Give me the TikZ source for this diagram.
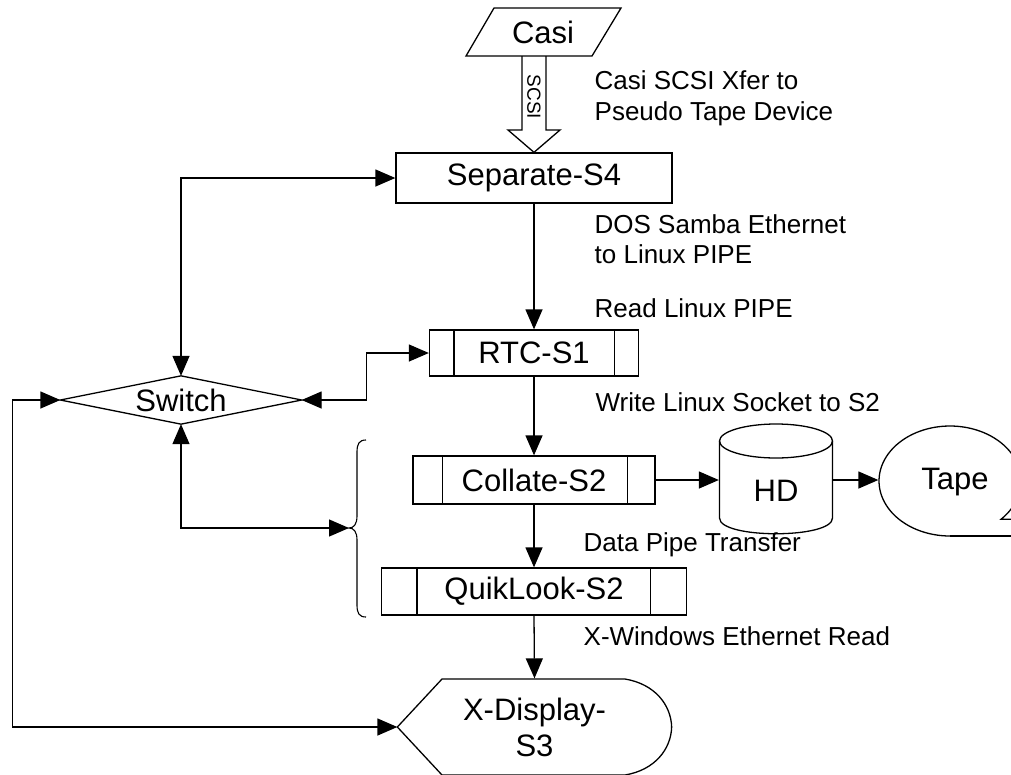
\documentclass[tikz,border=0pt]{standalone}
\usepackage{fontspec}
\setmainfont{Liberation Sans}
\usetikzlibrary{arrows.meta}
\newcommand\ndfont{\fontsize{31}{36}\selectfont}
\newcommand\lbfont{\fontsize{26}{30}\selectfont}
\begin{document}
\begin{tikzpicture}[x=1pt,y=-1pt,line width=1.3pt,
  >={Triangle[length=20pt,width=17pt]},
  box/.style={draw, rectangle, inner sep=0pt, font=\ndfont},
  ghost/.style={rectangle, inner sep=0pt, font=\ndfont},
  lbl/.style={anchor=base west, inner sep=0pt, font=\lbfont},
  conn/.style={->},
  biconn/.style={<->}]
\useasboundingbox (0,0) rectangle (1011,774);
\begin{scope}
\clip (0,0) rectangle (1011,774);

% Casi (input parallelogram)
\node[ghost, minimum width=128pt, minimum height=48pt] (casi) at (543,32) {Casi};
\draw (466,56) -- (592,56) -- (621,8) -- (494,8) -- cycle;

% Separate-S4
\node[box, minimum width=276pt, minimum height=50pt] (sep) at (534,178) {Separate-S4};

% hollow SCSI arrow
\draw (522,56) -- (522,130) -- (508,130) -- (sep.north) -- (560,130) -- (546,130) -- (546,56);
\node[rotate=-90, inner sep=0pt, font=\fontsize{19}{19}\selectfont] (scsi) at (534,97) {SCSI};

% RTC-S1
\node[box, minimum width=209pt, minimum height=46pt] (rtc) at (534,353) {RTC-S1};
\draw ([xshift=25pt]rtc.north west) -- ([xshift=25pt]rtc.south west);
\draw ([xshift=-25pt]rtc.north east) -- ([xshift=-25pt]rtc.south east);

% Collate-S2
\node[box, minimum width=242pt, minimum height=48pt] (col) at (534,480) {Collate-S2};
\draw ([xshift=30pt]col.north west) -- ([xshift=30pt]col.south west);
\draw ([xshift=-28pt]col.north east) -- ([xshift=-28pt]col.south east);

% QuikLook-S2
\node[box, minimum width=305pt, minimum height=47pt] (ql) at (534,591.5) {QuikLook-S2};
\draw ([xshift=36pt]ql.north west) -- ([xshift=36pt]ql.south west);
\draw ([xshift=-37pt]ql.north east) -- ([xshift=-37pt]ql.south east);

% Switch (diamond)
\node[ghost, minimum width=240pt, minimum height=47pt] (sw) at (181,400) {Switch};
\draw (sw.west) -- (sw.north) -- (sw.east) -- (sw.south) -- cycle;

% HD (cylinder)
\node[ghost, minimum width=113pt, minimum height=60pt] (hd) at (776,491) {HD};
\draw (719.5,441) -- (719.5,518) .. controls (719.5,539) and (832.5,539) .. (832.5,518) -- (832.5,441);
\draw (776,441) ellipse [x radius=56.5pt, y radius=17pt];

% Tape
\node[ghost, minimum width=142pt, minimum height=110pt] (tape) at (950,481) {};
\node[ghost] (tapetxt) at (955,482) {Tape};
\draw plot[domain=90:404, samples=90] ({950+71*cos(\x)},{481+55*sin(\x)}) -- (1020,519.2);
\draw (950,536) -- (1020,536);

% X-Display-S3
\node[ghost, minimum width=273pt, minimum height=96pt, align=center] (xd) at (534.5,727) {X-Display-\\S3};
\draw (xd.west) -- (442,679) -- (625,679) .. controls (655,684) and (671,705) .. (xd.east)
  .. controls (671,749) and (655,770) .. (625,775) -- (442,775) -- cycle;
\end{scope}

% brace
\coordinate (bt) at (349,528);
\draw[line width=1.1pt] (366,440) .. controls (359,440) and (357,444) .. (357,452) -- (357,516)
  .. controls (357,524) and (354,528) .. (bt) .. controls (354,528) and (357,532) .. (357,540)
  -- (357,605) .. controls (357,613) and (359,617) .. (366,617);

% main flow
\draw[conn] (sep.south) -- (rtc.north);
\draw[conn] (rtc.south) -- (col.north);
\draw[conn] (col.south) -- (ql.north);
\draw[conn] (ql.south) -- (xd.north);
\draw[conn] (col.east) -- (col.east -| hd.west);
\draw[conn] (col.east -| hd.east) -- (col.east -| tape.west);

% switch connections
\draw[biconn] (sw.north) |- (sep.west);
\draw[biconn] (sw.east) -- ++(65,0) |- (rtc.west);
\draw[biconn] (sw.south) |- (bt);
\draw[biconn] (sw.west) -- ++(-48,0) |- (xd.west);

% labels
\node[lbl] (l1) at (594,89) {Casi SCSI Xfer to};
\node[lbl] (l2) at (594,120) {Pseudo Tape Device};
\node[lbl] (l3) at (594,233) {DOS Samba Ethernet};
\node[lbl] (l4) at (594,263) {to Linux PIPE};
\node[lbl] (l5) at (594,317) {Read Linux PIPE};
\node[lbl] (l6) at (595,411) {Write Linux Socket to S2};
\node[lbl] (l7) at (583,551) {Data Pipe Transfer};
\node[lbl] (l8) at (583,645) {X-Windows Ethernet Read};
\end{tikzpicture}
\end{document}
